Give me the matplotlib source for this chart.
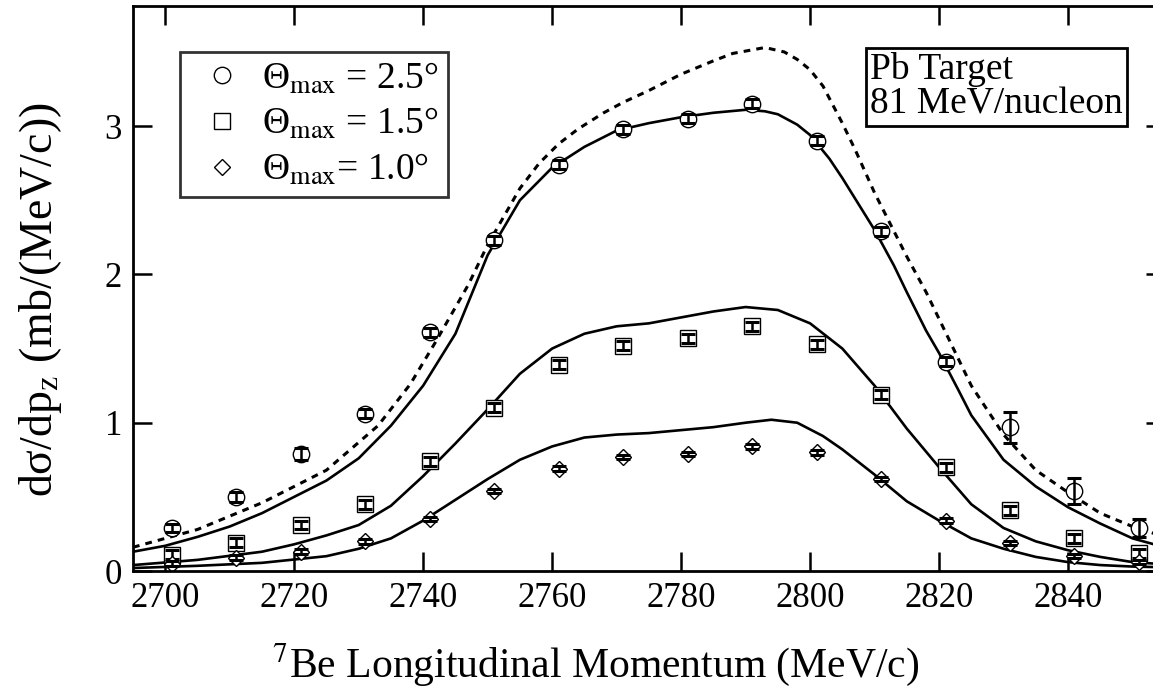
import matplotlib
matplotlib.use("Agg")
import matplotlib.pyplot as plt
from matplotlib.lines import Line2D

plt.rcParams['font.family'] = ['Liberation Serif', 'DejaVu Serif']
plt.rcParams['mathtext.fontset'] = 'stix'

# ---- data: measured points ----
p_meas = [2701, 2711, 2721, 2731, 2741, 2751, 2761, 2771, 2781, 2791,
          2801, 2811, 2821, 2831, 2841, 2851]
y_25 = [0.29, 0.50, 0.79, 1.06, 1.61, 2.23, 2.74, 2.98, 3.05, 3.15,
        2.90, 2.29, 1.41, 0.97, 0.54, 0.29]
e_25 = [0.03, 0.035, 0.04, 0.03, 0.03, 0.03, 0.03, 0.03, 0.03, 0.03,
        0.03, 0.03, 0.03, 0.105, 0.09, 0.06]
y_15 = [0.11, 0.19, 0.31, 0.45, 0.74, 1.10, 1.39, 1.52, 1.57, 1.65,
        1.53, 1.19, 0.70, 0.41, 0.22, 0.12]
e_15 = [0.03] * 16
y_10 = [0.05, 0.09, 0.13, 0.20, 0.35, 0.54, 0.69, 0.77, 0.79, 0.84,
        0.80, 0.62, 0.34, 0.19, 0.10, 0.06]
e_10 = [0.015] * 16

# ---- data: theory curves ----
x_top = [2695, 2700, 2705, 2710, 2715, 2720, 2725, 2730, 2735, 2740, 2745,
         2750, 2755, 2760, 2765, 2770, 2775, 2780, 2785, 2790, 2793, 2795,
         2798, 2800, 2803, 2805, 2808, 2810, 2813, 2815, 2818, 2820, 2823,
         2825, 2830, 2835, 2840, 2845, 2850, 2855]
y_top = [0.13, 0.17, 0.23, 0.30, 0.39, 0.50, 0.61, 0.76, 0.98, 1.25, 1.60,
         2.13, 2.50, 2.72, 2.86, 2.97, 3.02, 3.06, 3.09, 3.11, 3.10, 3.08,
         3.01, 2.94, 2.78, 2.65, 2.44, 2.30, 2.06, 1.88, 1.62, 1.47, 1.22,
         1.05, 0.75, 0.57, 0.43, 0.32, 0.22, 0.16]

x_mid = [2695, 2705, 2715, 2720, 2725, 2730, 2735, 2740, 2745, 2750, 2755,
         2760, 2765, 2770, 2775, 2780, 2785, 2790, 2795, 2800, 2805, 2810,
         2815, 2820, 2825, 2830, 2835, 2840, 2845, 2850, 2855]
y_mid = [0.04, 0.075, 0.13, 0.18, 0.24, 0.31, 0.44, 0.64, 0.86, 1.09, 1.33,
         1.50, 1.60, 1.65, 1.67, 1.71, 1.75, 1.78, 1.76, 1.67, 1.50, 1.25,
         0.96, 0.70, 0.45, 0.29, 0.20, 0.14, 0.095, 0.06, 0.045]

x_low = [2695, 2705, 2715, 2725, 2730, 2735, 2740, 2745, 2750, 2755, 2760,
         2765, 2770, 2775, 2780, 2785, 2790, 2794, 2798, 2802, 2805, 2810,
         2815, 2820, 2825, 2830, 2835, 2840, 2845, 2850, 2855]
y_low = [0.02, 0.035, 0.055, 0.10, 0.15, 0.22, 0.34, 0.48, 0.62, 0.75, 0.84,
         0.90, 0.92, 0.93, 0.95, 0.97, 1.00, 1.02, 1.00, 0.91, 0.82, 0.65,
         0.47, 0.34, 0.22, 0.15, 0.095, 0.06, 0.04, 0.03, 0.025]

x_dash = [2695, 2705, 2715, 2725, 2733, 2738, 2742, 2747, 2750, 2755, 2758,
          2761, 2764, 2768, 2771, 2775, 2780, 2785, 2788, 2793, 2796, 2798,
          2800, 2802, 2805, 2807, 2810, 2815, 2818, 2820, 2825, 2830, 2835,
          2840, 2845, 2850, 2855]
y_dash = [0.16, 0.28, 0.46, 0.68, 0.98, 1.26, 1.55, 1.93, 2.20, 2.58, 2.75,
          2.88, 2.98, 3.09, 3.16, 3.24, 3.35, 3.44, 3.49, 3.53, 3.50, 3.45,
          3.38, 3.27, 3.02, 2.84, 2.55, 2.12, 1.88, 1.70, 1.25, 0.92, 0.68,
          0.53, 0.39, 0.30, 0.23]

legend_labels = ['Θ$_{\\rm max}$ = 2.5°', 'Θ$_{\\rm max}$ = 1.5°', 'Θ$_{\\rm max}$= 1.0°']
x_ticks = [2700, 2720, 2740, 2760, 2780, 2800, 2820, 2840]
y_ticks = [0, 1, 2, 3]

W, H = 1153, 696
fig = plt.figure(figsize=(W / 100, H / 100), dpi=100)
ax = fig.add_axes([133 / W, 1 - 571 / H, 1031.75 / W, 565 / H])
ax.set_xlim(2695, 2855)
ax.set_ylim(0, 3.81)

lw = 1.9
ax.plot(x_dash, y_dash, color='black', lw=2.2, ls=(0, (2.2, 2.0)))
ax.plot(x_top, y_top, color='black', lw=lw)
ax.plot(x_mid, y_mid, color='black', lw=lw)
ax.plot(x_low, y_low, color='black', lw=lw)

for y, e, m, ms in [(y_25, e_25, 'o', 11.8), (y_15, e_15, 's', 11.5), (y_10, e_10, 'D', 8.3)]:
    ax.plot(p_meas, y, ls='none', marker=m, ms=ms, mfc='white', mec='black', mew=1.0)
    ax.errorbar(p_meas, y, yerr=e, fmt='none', ecolor='black', elinewidth=1.8,
                capsize=5, capthick=2.2)

ax.set_xticks(x_ticks)
ax.set_yticks(y_ticks)
ax.tick_params(direction='in', length=14, width=1.8, labelsize=25,
               top=True, right=True, pad=8)
for s in ax.spines.values():
    s.set_linewidth(2.0)

fig.text(41 / W, 1 - 300 / H, 'dσ/dp$_{\\rm z}$ (mb/(MeV/c))', fontsize=33,
         rotation=90, ha='center', va='center')
fig.text(596 / W, 1 - 665 / H, '$^{7}$Be Longitudinal Momentum (MeV/c)',
         fontsize=30, ha='center', va='center')

handles = [Line2D([], [], ls='none', marker='o', ms=11.8, mfc='white', mec='black', mew=1.0),
           Line2D([], [], ls='none', marker='s', ms=11.5, mfc='white', mec='black', mew=1.0),
           Line2D([], [], ls='none', marker='D', ms=8.3, mfc='white', mec='black', mew=1.0)]
leg = ax.legend(handles, legend_labels, loc='upper left',
                bbox_to_anchor=((180 - 133) / 1031.75, (571 - 52) / 565),
                fontsize=27, frameon=True, fancybox=False, shadow=False,
                handlelength=1.75, handletextpad=0.2, borderpad=0.25,
                labelspacing=0.28, borderaxespad=0)
leg.get_frame().set_edgecolor('black')
leg.get_frame().set_linewidth(2.0)

fig.text(870 / W, 1 - 87 / H, 'Pb Target\n81 MeV/nucleon', fontsize=27,
         ha='left', va='center', linespacing=1.0,
         bbox=dict(boxstyle='square,pad=0.12', fc='white', ec='black', lw=2.0))

fig.savefig('out.png', dpi=100)
